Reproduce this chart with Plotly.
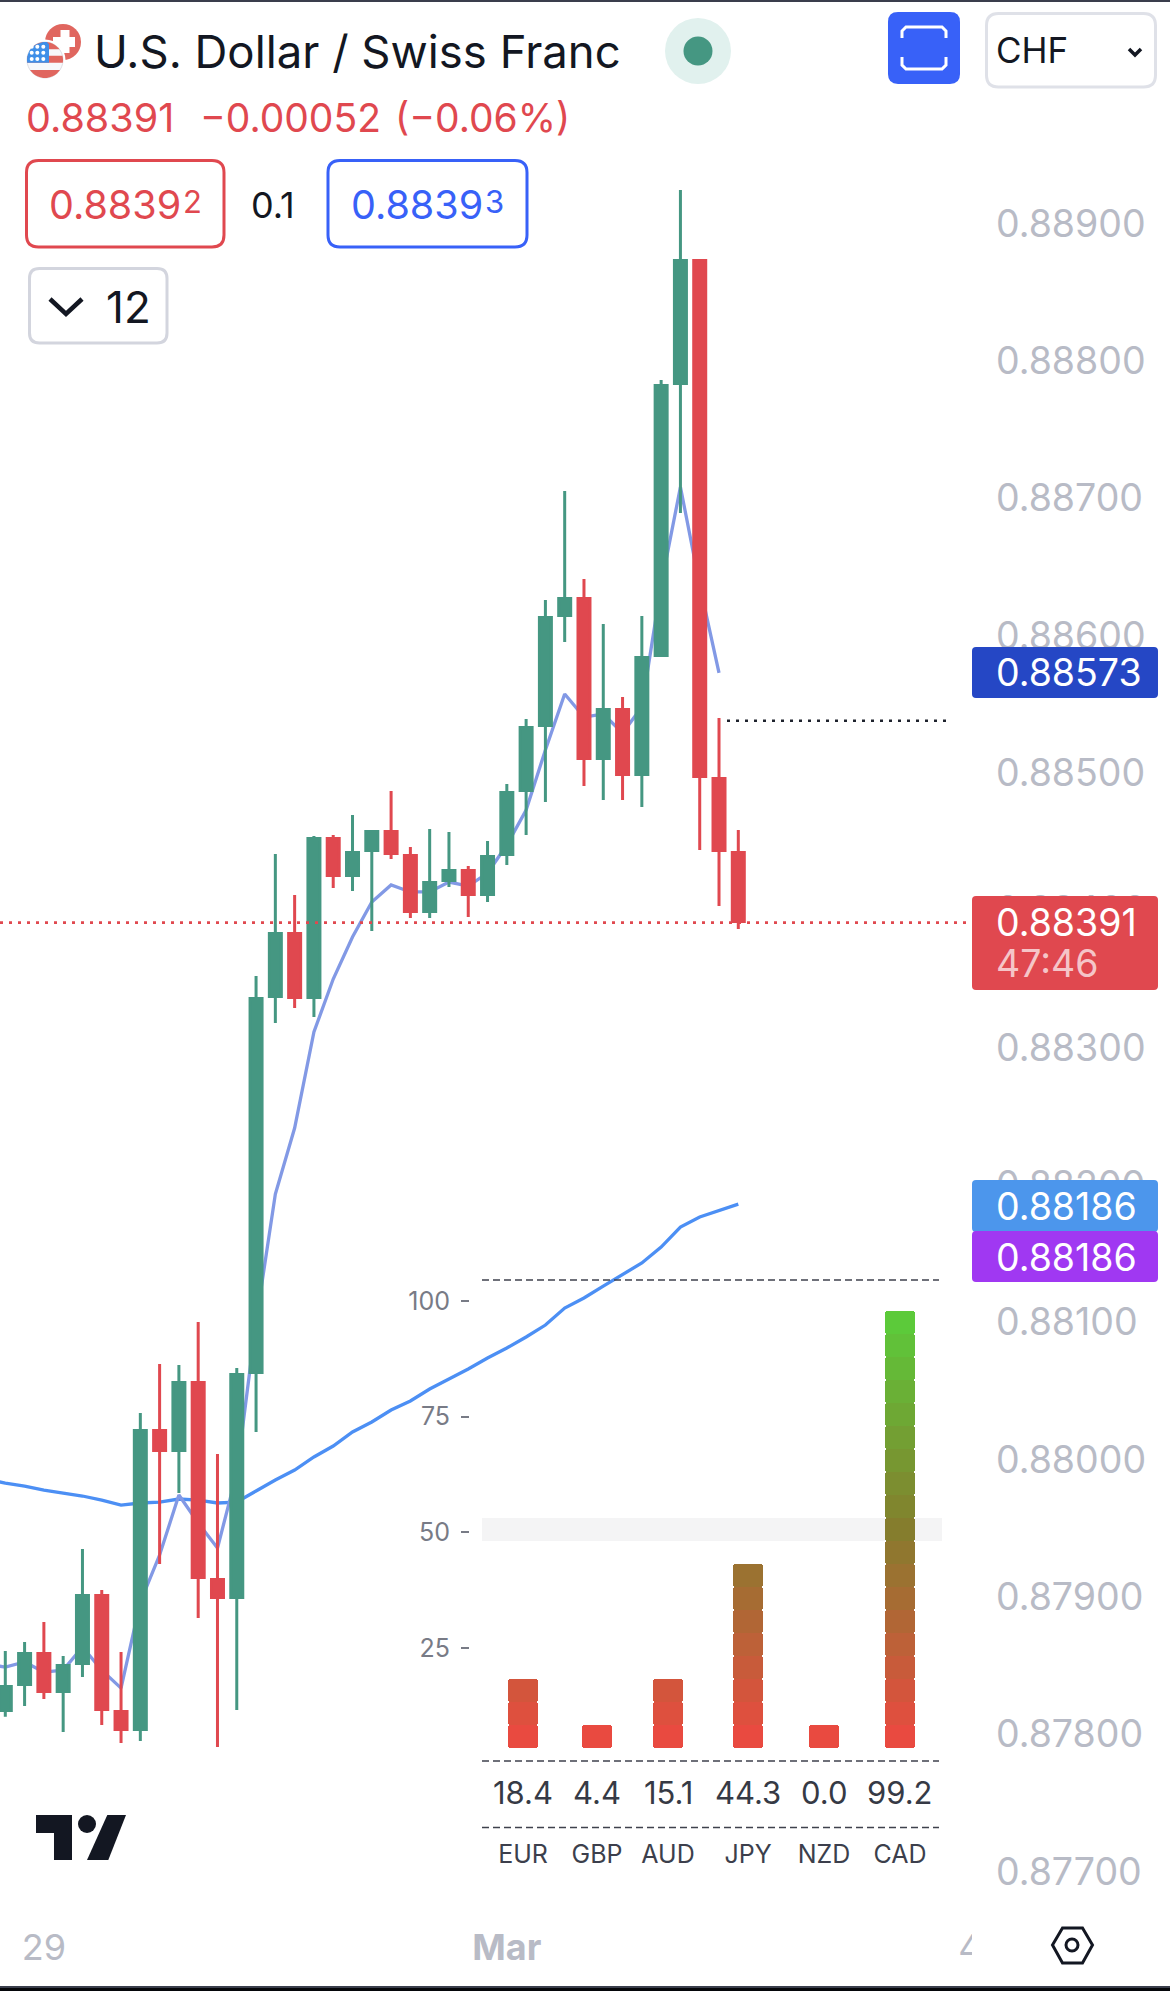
import math
import plotly.graph_objects as go

W, H = 1170, 1991
FONT = "Inter"

# ---------- data ----------
OPEN = [.878171,.878361,.878587,.878310,.878514,.879009,.878164,.878033,.880211,.880065,.880560,.879126,.878994,.880633,.883371,.883830,.883364,.884522,.884253,.884435,.884573,.884398,.883991,.884216,.884289,.884114,.884406,.884872,.885345,.886146,.886270,.885105,.885462,.884988,.885855,.887836,.888732,.884959,.884420]
CLOSE = [.878346,.878587,.878310,.878499,.879009,.878179,.878033,.880211,.880065,.880560,.879140,.878994,.880619,.883357,.883830,.883364,.884522,.884253,.884420,.884573,.884413,.883991,.884202,.884289,.884114,.884391,.884857,.885331,.886132,.886270,.885105,.885462,.884988,.885840,.887821,.888732,.884974,.884435,.883918]
HIGH = [.878605,.878670,.878816,.878568,.879348,.879049,.878597,.880338,.880695,.880688,.881001,.880040,.880666,.883521,.884409,.884111,.884540,.884548,.884693,.884584,.884868,.884460,.884591,.884570,.884322,.884504,.884919,.885393,.886259,.887053,.886412,.886084,.885553,.886143,.887861,.889245,.888743,.885400,.884584]
LOW = [.878126,.878204,.878255,.878015,.878415,.878066,.877935,.877949,.879238,.879755,.878845,.877906,.878175,.880200,.883178,.883288,.883222,.884162,.884140,.883849,.884373,.883943,.883943,.884169,.883950,.884060,.884329,.884548,.884788,.885953,.884905,.884803,.884803,.884752,.885844,.886893,.884438,.884031,.883863]
FAST_MA = [.878510,.878488,.878525,.878452,.878466,.878634,.878466,.878335,.878962,.879304,.879741,.879537,.879355,.879901,.881001,.881933,.882414,.883113,.883499,.883805,.884060,.884184,.884133,.884133,.884205,.884176,.884271,.884475,.884730,.885167,.885575,.885407,.885429,.885291,.885480,.886368,.887082,.886368,.885728]
SLOW_MA = [.879857,.879828,.879806,.879777,.879755,.879734,.879704,.879668,.879683,.879690,.879712,.879704,.879683,.879690,.879770,.879850,.879923,.880018,.880098,.880200,.880273,.880360,.880426,.880513,.880586,.880659,.880739,.880812,.880892,.880979,.881103,.881176,.881263,.881350,.881431,.881547,.881693,.881766,.881816,.881860]
PRICE_TICKS = [0.877,0.878,0.879,0.880,0.881,0.882,0.883,0.884,0.885,0.886,0.887,0.888,0.889]
TIME_TICKS = [2, 26, 50]
TIME_LABELS = ["29", "<b>Mar</b>", "4"]
LAST_PRICE = 0.88391
LEVEL_PRICE = 0.88538

CURRENCIES = ["EUR", "GBP", "AUD", "JPY", "NZD", "CAD"]
STRENGTH = ["18.4", "4.4", "15.1", "44.3", "0.0", "99.2"]
CELLS = [3, 1, 3, 8, 1, 19]
PANEL_TICKS = [25, 50, 75, 100]

# ---------- layout constants ----------
PANEL_X = [523, 597, 668, 748, 824, 900]
BAR_W = 30
CELL = 4.974
CELL_BASE = 3.35
GREEN, RED = "#459782", "#E0484F"
GREY = "#B8BBC6"
INK = "#131722"
BLUE = "#3861F8"


def X(p):
    return p / W


def Y(p):
    return 1 - p / H


def path(points, close=True):
    d = []
    for i, (x, y) in enumerate(points):
        d.append(("M" if i == 0 else "L") + f"{X(x):.5f},{Y(y):.5f}")
    return " ".join(d) + (" Z" if close else "")


def rrect_path(x0, y0, x1, y1, r):
    def q(cx, cy, x, y):
        return f"Q{X(cx):.5f},{Y(cy):.5f} {X(x):.5f},{Y(y):.5f}"
    return (f"M{X(x0+r):.5f},{Y(y0):.5f} L{X(x1-r):.5f},{Y(y0):.5f} " + q(x1, y0, x1, y0+r) +
            f" L{X(x1):.5f},{Y(y1-r):.5f} " + q(x1, y1, x1-r, y1) +
            f" L{X(x0+r):.5f},{Y(y1):.5f} " + q(x0, y1, x0, y1-r) +
            f" L{X(x0):.5f},{Y(y0+r):.5f} " + q(x0, y0, x0+r, y0) + " Z")


shapes = []


def add(**kw):
    kw.setdefault("xref", "paper")
    kw.setdefault("yref", "paper")
    kw.setdefault("layer", "above")
    kw.setdefault("line", dict(width=0))
    shapes.append(kw)


def rrect(x0, y0, x1, y1, r, fill="rgba(0,0,0,0)", border=None, bw=0):
    add(type="path", path=rrect_path(x0, y0, x1, y1, r), fillcolor=fill,
        line=dict(color=border or fill, width=bw))


def circle(cx, cy, r, fill="rgba(0,0,0,0)", border=None, bw=0):
    add(type="circle", x0=X(cx-r), x1=X(cx+r), y0=Y(cy-r), y1=Y(cy+r), fillcolor=fill,
        line=dict(color=border or fill, width=bw))


def poly(points, fill):
    add(type="path", path=path(points), fillcolor=fill)


def stroke(points, color, width, closed=False):
    add(type="path", path=path(points, closed), line=dict(color=color, width=width))


def band(cx, cy, r, y0, y1):
    pts = []
    n = 10
    for k in range(n + 1):
        y = y0 + (y1 - y0) * k / n
        pts.append((cx + math.sqrt(max(r * r - (y - cy) ** 2, 0)), y))
    for k in range(n, -1, -1):
        y = y0 + (y1 - y0) * k / n
        pts.append((cx - math.sqrt(max(r * r - (y - cy) ** 2, 0)), y))
    return pts


# panel band (below traces)
add(type="rect", x0=X(482), x1=X(942), yref="y3", y0=48.1, y1=53.1, fillcolor="#F4F4F5", layer="below")

# dashed panel rules
for yy in (1280, 1761, 1827.5):
    add(type="line", x0=X(482), x1=X(939), y0=Y(yy), y1=Y(yy), line=dict(color="#3F424D", width=1.3, dash="7px,4px"))

# price lines
add(type="line", x0=0, x1=X(966), yref="y", y0=LAST_PRICE, y1=LAST_PRICE, line=dict(color=RED, width=2.6, dash="3px,6px"))
add(type="line", x0=X(727), x1=X(950), yref="y", y0=LEVEL_PRICE, y1=LEVEL_PRICE, line=dict(color="#1E222D", width=2.4, dash="3px,6px"))

# price tags
rrect(972, 647, 1158, 698, 4, "#2547C5")
rrect(972, 896, 1158, 990, 4, RED)
rrect(972, 1180, 1158, 1232, 4, "#4C96EC")
rrect(972, 1231, 1158, 1282, 4, "#A038F2")

# top & bottom edges
add(type="rect", x0=0, x1=1, y0=Y(0), y1=Y(2), fillcolor="#3A3E4C")
add(type="rect", x0=0, x1=1, y0=Y(1986), y1=Y(1988), fillcolor="#3A3E4C")
add(type="rect", x0=0, x1=1, y0=Y(1988), y1=Y(1991), fillcolor="#05060A")

# flags
SW = "#E0665F"
circle(63, 42, 18, SW)
poly([(53, 37), (60.5, 37), (60.5, 30), (69.5, 30), (69.5, 37), (75, 37), (75, 47), (69.5, 47), (69.5, 53), (60.5, 53), (60.5, 47), (53, 47)], "#FFFFFF")
circle(45, 60, 20.5, "#FFFFFF")
circle(45, 60, 18, "#F7F8FB", "#D5D6DC", 0.8)
for y0, y1 in ((42.1, 49.3), (55.7, 62.7), (70, 77.9)):
    poly(band(45, 60, 18, y0, y1), SW)
poly([(min(px, 49), py) for px, py in band(45, 60, 18, 42.1, 62.7)], "#3F8FE8")
for sx in (31.7, 37.3, 43.3):
    for sy in (46.7, 52.7, 59):
        circle(sx, sy, 2, "#FFFFFF")

# live dot
circle(698, 51, 33, "#E1F1EE")
circle(698, 51, 14.5, GREEN)

# buttons
rrect(888, 12, 960, 84, 10, BLUE)
stroke([(902, 38), (902, 31), (906, 27), (942, 27), (946, 31), (946, 38)], "#FFFFFF", 3)
stroke([(902, 57), (902, 65), (906, 69), (942, 69), (946, 65), (946, 57)], "#FFFFFF", 3)
rrect(986.5, 13.5, 1155.5, 87, 12, "#FFFFFF", "#DFE1E8", 3)
stroke([(1129, 49), (1135, 55), (1141, 49)], INK, 3.5)

rrect(26.5, 160.5, 224, 247, 12, "rgba(255,255,255,0)", RED, 3)
rrect(328, 160.5, 527, 247, 12, "rgba(255,255,255,0)", BLUE, 3)
rrect(29.5, 268.5, 167, 343, 10, "rgba(255,255,255,0)", "#D3D5DE", 3)
stroke([(50, 299), (66, 314), (82, 299)], INK, 4.5)

# logo
poly([(36, 1815), (72, 1815), (72, 1860), (54, 1860), (54, 1833), (36, 1833)], INK)
circle(87, 1824, 9, INK)
poly([(107.3, 1815), (126, 1815), (108.3, 1860), (87, 1860)], INK)

# clip of the time axis and settings hexagon
add(type="rect", x0=X(972), x1=1, y0=Y(1925), y1=Y(1970), fillcolor="#FFFFFF")
stroke([(1052.5, 1945), (1062.5, 1928), (1082.5, 1928), (1092.5, 1945), (1082.5, 1963), (1062.5, 1963)], INK, 3, closed=True)
circle(1072, 1945, 6, "rgba(0,0,0,0)", INK, 3)

# ---------- traces ----------
fig = go.Figure()
fig.add_trace(go.Scatter(x=list(range(-1, len(SLOW_MA) - 1)), y=SLOW_MA, mode="lines",
                         line=dict(color="#4C8FF4", width=3.3), hoverinfo="skip", showlegend=False))
fig.add_trace(go.Scatter(x=list(range(-1, len(FAST_MA) - 1)), y=FAST_MA, mode="lines",
                         line=dict(color="#8299E5", width=3.3), hoverinfo="skip", showlegend=False))
fig.add_trace(go.Candlestick(x=list(range(len(OPEN))), open=OPEN, high=HIGH, low=LOW, close=CLOSE,
                             xaxis="x2", yaxis="y2", whiskerwidth=0,
                             increasing=dict(line=dict(color=GREEN, width=3), fillcolor=GREEN),
                             decreasing=dict(line=dict(color=RED, width=3), fillcolor=RED),
                             hoverinfo="skip", showlegend=False))


def lerp(a, b, t):
    return [round(a[i] + (b[i] - a[i]) * t) for i in range(3)]


C0, C1, C2 = (233, 74, 64), (133, 125, 45), (92, 202, 58)
for k in range(max(CELLS)):
    xs = [PANEL_X[i] for i, n in enumerate(CELLS) if n > k]
    t = k / 18
    c = lerp(C0, C1, t * 2) if t < .5 else lerp(C1, C2, t * 2 - 1)
    fig.add_trace(go.Bar(x=xs, y=[CELL] * len(xs), base=CELL_BASE + k * CELL, width=BAR_W,
                         xaxis="x3", yaxis="y3", marker=dict(color=f"rgb({c[0]},{c[1]},{c[2]})", line=dict(width=0)),
                         hoverinfo="skip", showlegend=False))

# ---------- text ----------
ann = []


def text(x, y, s, size, color=INK, anchor="left", **kw):
    ann.append(dict(x=X(x), y=Y(y), xref="paper", yref="paper", text=s, showarrow=False, xanchor=anchor, yanchor="middle",
                    font=dict(family=FONT, size=size, color=color), align="left", borderpad=0, borderwidth=0, **kw))


text(94, 51, "U.S. Dollar / Swiss Franc", 45.5)
text(26, 118, "0.88391", 39.5, RED)
text(200, 118, "−0.00052", 39, RED)
text(395, 118, "(−0.06%)", 39, RED)
text(49, 204.5, "0.8839", 39.5, RED)
text(183, 201, "2", 31, RED)
text(251, 204.5, "0.1", 36)
text(351, 204.5, "0.8839", 39.5, BLUE)
text(485, 201, "3", 31, BLUE)
text(106, 306.5, "12", 44)
text(996, 50, "CHF", 35)
for yy, s, col in ((672.7, "0.88573", "#FFFFFF"), (922, "0.88391", "#FFFFFF"), (963.6, "47:46", "rgba(255,255,255,0.7)"),
                   (1206, "0.88186", "#FFFFFF"), (1257, "0.88186", "#FFFFFF")):
    text(996, yy, s, 37.5, col)
for cx, s in zip(PANEL_X, STRENGTH):
    text(cx, 1792, s, 31, "#363A45", anchor="center")

axis_common = dict(showgrid=False, zeroline=False, showline=False)
IDX_RANGE = [-0.2747, 60.38]
PRICE_RANGE = [0.876129, 0.890629]
PANEL_RANGE = [-49.2, 381.4]

fig.update_layout(
    width=W, height=H, autosize=False, margin=dict(l=0, r=0, t=0, b=0),
    paper_bgcolor="#FFFFFF", plot_bgcolor="rgba(0,0,0,0)", showlegend=False,
    boxmode="overlay", boxgap=0.378, boxgroupgap=0, barmode="overlay", barcornerradius=3, bargap=0,
    font=dict(family=FONT),
    xaxis=dict(range=IDX_RANGE, domain=[0, 1], anchor="free", position=Y(1923), tickmode="array", tickvals=TIME_TICKS,
               ticktext=TIME_LABELS, ticks="", tickfont=dict(size=36, color=GREY, family=FONT), **axis_common),
    yaxis=dict(range=PRICE_RANGE, domain=[0, 1], anchor="free", position=X(995), side="right", tickmode="array",
               tickvals=PRICE_TICKS, tickformat=".5f", ticks="", tickfont=dict(size=37.5, color=GREY, family=FONT), **axis_common),
    xaxis2=dict(range=IDX_RANGE, overlaying="x", visible=False, rangeslider=dict(visible=False), anchor="y2"),
    yaxis2=dict(range=PRICE_RANGE, overlaying="y", visible=False, anchor="x2"),
    xaxis3=dict(range=[0, W], overlaying="x", anchor="free", position=Y(1837), tickmode="array", tickvals=PANEL_X,
                ticktext=CURRENCIES, ticks="", tickfont=dict(size=25, color="#3C3F4C", family=FONT), **axis_common),
    yaxis3=dict(range=PANEL_RANGE, overlaying="y", anchor="free", position=X(469), side="left", tickmode="array",
                tickvals=PANEL_TICKS, ticks="outside", ticklen=8, tickwidth=1.7, tickcolor="#787B86", ticklabelstandoff=6,
                tickfont=dict(size=25, color="#787B86", family=FONT), **axis_common),
    shapes=shapes, annotations=ann,
)

fig.write_html("out.html", config=dict(displayModeBar=False, staticPlot=True),
               post_script="document.body.style.margin='0';document.body.style.overflow='hidden';")
